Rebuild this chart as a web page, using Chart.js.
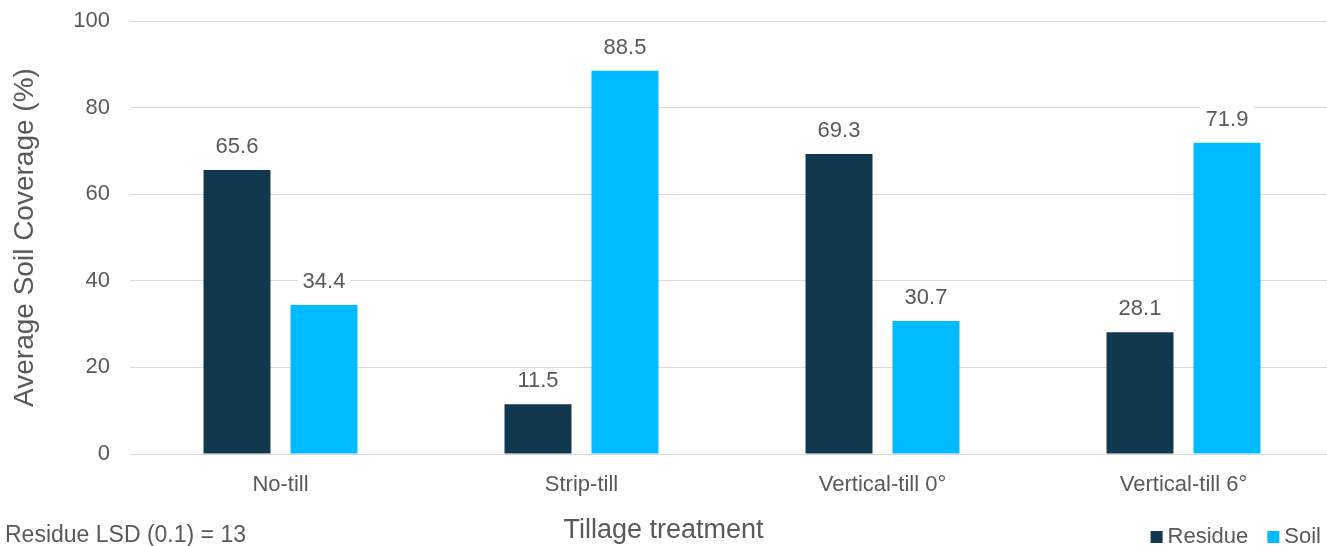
<!DOCTYPE html>
<html>
<head>
<meta charset="utf-8">
<script src="https://cdn.jsdelivr.net/npm/chart.js@4/dist/chart.umd.min.js"></script>
<style>
  html, body { margin: 0; padding: 0; background: #ffffff; overflow: hidden; }
  #wrap { position: relative; width: 1327px; height: 546px; overflow: hidden; }
</style>
</head>
<body>
<div id="wrap"><canvas id="c" width="1334" height="546"></canvas></div>
<script>
const categories = ["No-till", "Strip-till", "Vertical-till 0°", "Vertical-till 6°"];
const residueValues = [65.6, 11.5, 69.3, 28.1];
const soilValues = [34.4, 88.5, 30.7, 71.9];
const seriesNames = ["Residue", "Soil"];
const yTicks = [0, 20, 40, 60, 80, 100];
const yTitle = "Average Soil Coverage (%)";
const xTitle = "Tillage treatment";
const noteText = "Residue LSD (0.1) = 13";

const FONT = "'Liberation Sans', Arial, sans-serif";
const GREY = "#595959";
const NAVY = "#12384F";
const CYAN = "#00BBFF";
const VIEW_W = 1327;

const extrasPlugin = {
  id: "extras",
  afterDatasetsDraw(chart) {
    const ctx = chart.ctx;
    ctx.save();
    ctx.font = "22px " + FONT;
    ctx.textAlign = "center";
    ctx.textBaseline = "middle";
    chart.data.datasets.forEach((ds, di) => {
      const meta = chart.getDatasetMeta(di);
      meta.data.forEach((el, i) => {
        const txt = ds.data[i].toFixed(1);
        const w = ctx.measureText(txt).width;
        const cy = el.y - 23;
        ctx.fillStyle = "#ffffff";
        ctx.fillRect(el.x - w / 2 - 5, cy - 13, w + 10, 26);
        ctx.fillStyle = GREY;
        ctx.fillText(txt, el.x, cy);
      });
    });
    ctx.restore();
  },
  afterDraw(chart) {
    const ctx = chart.ctx;
    ctx.save();
    ctx.fillStyle = GREY;
    ctx.textBaseline = "middle";
    ctx.font = "27px " + FONT;
    ctx.textAlign = "center";
    ctx.fillText(xTitle, VIEW_W / 2, 531);
    ctx.font = "23px " + FONT;
    ctx.textAlign = "left";
    ctx.fillText(noteText, 5, 536);
    ctx.font = "22px " + FONT;
    const box = 12, gapBT = 5, gapItems = 19;
    const items = chart.data.datasets.map(d => ({ text: d.label, color: d.backgroundColor }));
    let total = 0;
    items.forEach((it, i) => {
      it.w = ctx.measureText(it.text).width;
      total += box + gapBT + it.w + (i < items.length - 1 ? gapItems : 0);
    });
    let x = VIEW_W - 6 - total;
    const cy = 537;
    items.forEach(it => {
      ctx.fillStyle = it.color;
      ctx.fillRect(x, cy - box / 2, box, box);
      x += box + gapBT;
      ctx.fillStyle = GREY;
      ctx.fillText(it.text, x, cy);
      x += it.w + gapItems;
    });
    ctx.restore();
  }
};

new Chart(document.getElementById("c"), {
  type: "bar",
  data: {
    labels: categories,
    datasets: [
      { label: seriesNames[0], data: residueValues, backgroundColor: NAVY },
      { label: seriesNames[1], data: soilValues, backgroundColor: CYAN }
    ]
  },
  options: {
    responsive: false,
    animation: false,
    devicePixelRatio: 1,
    layout: { padding: { top: 21, right: 0, bottom: 0, left: 0 } },
    categoryPercentage: 0.578,
    barPercentage: 0.77,
    plugins: {
      legend: { display: false },
      tooltip: { enabled: false }
    },
    scales: {
      x: {
        grid: { display: false, drawTicks: false },
        border: { display: true, color: "#d9d9d9", width: 1 },
        ticks: { color: GREY, font: { family: FONT, size: 22 }, padding: 18, maxRotation: 0 },
        afterFit(scale) { scale.height = 92; scale.paddingLeft = 0; scale.paddingRight = 0; }
      },
      y: {
        min: 0,
        max: 100,
        afterBuildTicks(scale) { scale.ticks = yTicks.map(v => ({ value: v })); },
        grid: { color: "#d9d9d9", lineWidth: 1, drawTicks: false },
        border: { display: false },
        ticks: { color: GREY, font: { family: FONT, size: 22 }, padding: 20 },
        title: {
          display: true,
          text: yTitle,
          color: GREY,
          font: { family: FONT, size: 28 },
          padding: { top: 8, bottom: 0 }
        },
        afterFit(scale) { scale.width = 130; scale.paddingTop = 0; scale.paddingBottom = 0; }
      }
    }
  },
  plugins: [extrasPlugin]
});
</script>
</body>
</html>
